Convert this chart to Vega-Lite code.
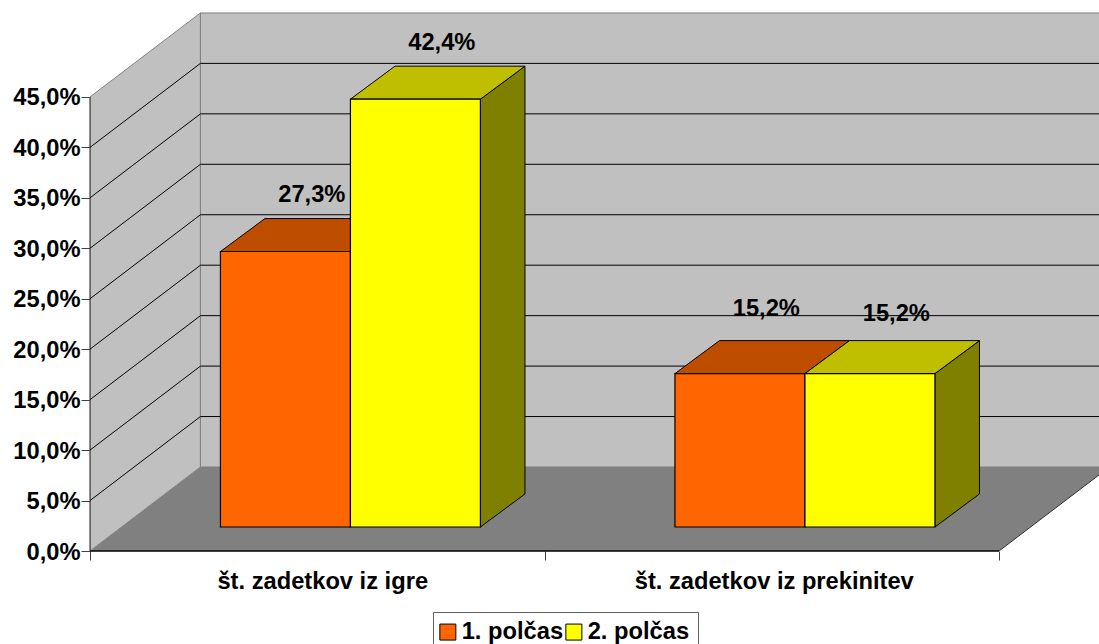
{
"$schema":"https://vega.github.io/schema/vega-lite/v6.json",
"width":1009,"height":548,
"autosize":{"type":"none"},
"padding":{"left":90,"top":3,"right":0,"bottom":93},
"background":"white",
"config":{"view":{"stroke":null},"font":"Liberation Sans"},
"resolve":{"axis":{"x":"independent","y":"independent"}},
"datasets":{
"depth":[{"d":0},{"d":1}],
"ticks":[{"t":5},{"t":10},{"t":15},{"t":20},{"t":25},{"t":30},{"t":35},{"t":40}]
},
"layer":[
{"data":{"name":"depth"},
 "resolve":{"axis":{"x":"independent","y":"independent"}},
 "transform":[{"calculate":"0.243*datum.d","as":"x"},{"calculate":"8.325*datum.d","as":"y"},{"calculate":"45+8.325*datum.d","as":"y2"},{"calculate":"2+0.243*datum.d","as":"x2"}],
 "layer":[
 {"mark":{"type":"area","fill":"#C0C0C0","stroke":"#808080","strokeWidth":1,"orient":"vertical","clip":true},
  "encoding":{
   "x":{"field":"x","type":"quantitative","scale":{"domain":[0,2.22],"nice":false,"zero":false},
    "axis":{"values":[0,0.5,1,1.5,2],"title":null,"grid":false,"domain":false,"tickSize":9,"tickColor":"#404040","tickWidth":1,
     "tickOpacity":{"condition":{"test":"datum.value==0.5||datum.value==1.5","value":0},"value":1},
     "labelOffset":{"condition":{"test":"datum.value==0.5","value":5},"value":2},
     "labelExpr":"datum.value==0.5?'št. zadetkov iz igre':datum.value==1.5?'št. zadetkov iz prekinitev':''",
     "labelOverlap":false,"labelFont":"Liberation Sans","labelFontWeight":"bold","labelFontSize":23.7,"labelColor":"black","labelPadding":9,"labelAngle":0,"labelLimit":500}},
   "y":{"field":"y","type":"quantitative","scale":{"domain":[0,54.31],"nice":false,"zero":false},
    "axis":{"values":[0,5,10,15,20,25,30,35,40,45],"title":null,"grid":false,"domain":false,"tickSize":9,"tickColor":"#404040","tickWidth":1,
     "labelExpr":"replace(format(datum.value,'.1f'),'.',',')+'%'",
     "labelOverlap":false,"labelFont":"Liberation Sans","labelFontWeight":"bold","labelFontSize":23.7,"labelColor":"black","labelPadding":1,"labelOffset":1}},
   "y2":{"field":"y2"}}},
 {"transform":[{"filter":"datum.d==1"}],
  "mark":{"type":"rect","fill":"#C0C0C0","stroke":"#808080","strokeWidth":1,"clip":true},
  "encoding":{
   "x":{"field":"x","type":"quantitative","scale":{"domain":[0,2.22],"nice":false,"zero":false},"axis":null},
   "x2":{"field":"x2"},
   "y":{"field":"y","type":"quantitative","scale":{"domain":[0,54.31],"nice":false,"zero":false},"axis":null},
   "y2":{"field":"y2"}}},
 {"mark":{"type":"area","fill":"#808080","orient":"horizontal","clip":true},
  "encoding":{
   "x":{"field":"x","type":"quantitative","scale":{"domain":[0,2.22],"nice":false,"zero":false},"axis":null},
   "x2":{"field":"x2"},
   "y":{"field":"y","type":"quantitative","scale":{"domain":[0,54.31],"nice":false,"zero":false},"axis":null}}},
 {"transform":[{"filter":"datum.d==0"}],
  "mark":{"type":"rule","stroke":"black","strokeWidth":1.5},
  "encoding":{
   "x":{"field":"x","type":"quantitative","scale":{"domain":[0,2.22],"nice":false,"zero":false},"axis":null},
   "x2":{"field":"x2"},
   "y":{"field":"y","type":"quantitative","scale":{"domain":[0,54.31],"nice":false,"zero":false},"axis":null}}},
 {"transform":[{"filter":"datum.d==0"}],
  "mark":{"type":"rule","stroke":"#404040","strokeWidth":1.2},
  "encoding":{
   "x":{"field":"x","type":"quantitative","scale":{"domain":[0,2.22],"nice":false,"zero":false},"axis":null},
   "y":{"field":"y","type":"quantitative","scale":{"domain":[0,54.31],"nice":false,"zero":false},"axis":null},
   "y2":{"field":"y2"}}},
 {"mark":{"type":"line","stroke":"#303030","strokeWidth":1,"clip":true},
  "encoding":{
   "x":{"field":"x2","type":"quantitative","scale":{"domain":[0,2.22],"nice":false,"zero":false},"axis":null},
   "y":{"field":"y","type":"quantitative","scale":{"domain":[0,54.31],"nice":false,"zero":false},"axis":null}}}
 ]},
{"data":{"name":"ticks"},
 "transform":[{"calculate":"0","as":"x0"},{"calculate":"0.243","as":"x1"},{"calculate":"2.243","as":"x2"},{"calculate":"datum.t+8.325","as":"yb"}],
 "layer":[
 {"mark":{"type":"rule","stroke":"black","strokeWidth":1},
  "encoding":{
   "x":{"field":"x0","type":"quantitative","scale":{"domain":[0,2.22],"nice":false,"zero":false},"axis":null},
   "x2":{"field":"x1"},
   "y":{"field":"t","type":"quantitative","scale":{"domain":[0,54.31],"nice":false,"zero":false},"axis":null},
   "y2":{"field":"yb"}}},
 {"mark":{"type":"rule","stroke":"black","strokeWidth":1,"clip":true},
  "encoding":{
   "x":{"field":"x1","type":"quantitative","scale":{"domain":[0,2.22],"nice":false,"zero":false},"axis":null},
   "x2":{"field":"x2"},
   "y":{"field":"yb","type":"quantitative","scale":{"domain":[0,54.31],"nice":false,"zero":false},"axis":null}}}
 ]},
{"data":{"values":[
 {"kategorija":"št. zadetkov iz igre","polcas":"1. polčas","delez":27.3},
 {"kategorija":"št. zadetkov iz igre","polcas":"2. polčas","delez":42.4},
 {"kategorija":"št. zadetkov iz prekinitev","polcas":"1. polčas","delez":15.2},
 {"kategorija":"št. zadetkov iz prekinitev","polcas":"2. polčas","delez":15.2}
 ]},
 "transform":[
  {"calculate":"[0,1]","as":"d"},{"flatten":["d"]},
  {"calculate":"(datum.kategorija=='št. zadetkov iz igre'?0.287:1.287)+(datum.polcas=='1. polčas'?0:0.286)","as":"xf"},
  {"calculate":"datum.xf+0.286","as":"xr"},
  {"calculate":"2.38","as":"yb"},
  {"calculate":"datum.yb+datum.delez","as":"yt"},
  {"calculate":"datum.xf+0.098*datum.d","as":"px"},
  {"calculate":"datum.xr+0.098*datum.d","as":"sx"},
  {"calculate":"datum.yb+3.27*datum.d","as":"by"},
  {"calculate":"datum.yt+3.27*datum.d","as":"ty"},
  {"calculate":"replace(format(datum.delez,'.1f'),'.',',')+'%'","as":"napis"},
  {"calculate":"(datum.xf+datum.xr)/2+0.058","as":"lx"},
  {"calculate":"datum.yt+3.27+(datum.kategorija=='št. zadetkov iz igre'?2.3:(datum.polcas=='1. polčas'?3.13:2.64))","as":"ly"}
 ],
 "layer":[
 {"transform":[{"filter":"datum.polcas=='1. polčas'"}],
  "layer":[
  {"mark":{"type":"area","orient":"vertical","fill":"#804000","stroke":"black","strokeWidth":1},
   "encoding":{"detail":{"field":"kategorija"},
    "x":{"field":"sx","type":"quantitative","scale":{"domain":[0,2.22],"nice":false,"zero":false},"axis":null},
    "y":{"field":"by","type":"quantitative","scale":{"domain":[0,54.31],"nice":false,"zero":false},"axis":null},
    "y2":{"field":"ty"}}},
  {"mark":{"type":"area","orient":"horizontal","fill":"#BF4D00","stroke":"black","strokeWidth":1},
   "encoding":{"detail":{"field":"kategorija"},
    "y":{"field":"ty","type":"quantitative","scale":{"domain":[0,54.31],"nice":false,"zero":false},"axis":null},
    "x":{"field":"px","type":"quantitative","scale":{"domain":[0,2.22],"nice":false,"zero":false},"axis":null},
    "x2":{"field":"sx"}}},
  {"transform":[{"filter":"datum.d==0"}],
   "mark":{"type":"rect","stroke":"black","strokeWidth":1.2},
   "encoding":{
    "x":{"field":"xf","type":"quantitative","scale":{"domain":[0,2.22],"nice":false,"zero":false},"axis":null},
    "x2":{"field":"xr"},
    "y":{"field":"yb","type":"quantitative","scale":{"domain":[0,54.31],"nice":false,"zero":false},"axis":null},
    "y2":{"field":"yt"},
    "fill":{"field":"polcas","type":"nominal","scale":{"domain":["1. polčas","2. polčas"],"range":["#FF6600","#FFFF00"]},
     "legend":{"orient":"none","legendX":343,"legendY":609,"direction":"horizontal","columns":2,"title":null,"fillColor":"white","strokeColor":"#606060","padding":8,"symbolType":"square","symbolSize":256,"symbolOffset":-5,"symbolStrokeColor":"black","symbolStrokeWidth":1,"labelFont":"Liberation Sans","labelFontSize":23.7,"labelFontWeight":"bold","labelColor":"black","labelLimit":300,"labelOffset":2,"columnPadding":-1}}}}
  ]},
 {"transform":[{"filter":"datum.polcas=='2. polčas'"}],
  "layer":[
  {"mark":{"type":"area","orient":"vertical","fill":"#808000","stroke":"black","strokeWidth":1},
   "encoding":{"detail":{"field":"kategorija"},
    "x":{"field":"sx","type":"quantitative","scale":{"domain":[0,2.22],"nice":false,"zero":false},"axis":null},
    "y":{"field":"by","type":"quantitative","scale":{"domain":[0,54.31],"nice":false,"zero":false},"axis":null},
    "y2":{"field":"ty"}}},
  {"mark":{"type":"area","orient":"horizontal","fill":"#BFBF00","stroke":"black","strokeWidth":1},
   "encoding":{"detail":{"field":"kategorija"},
    "y":{"field":"ty","type":"quantitative","scale":{"domain":[0,54.31],"nice":false,"zero":false},"axis":null},
    "x":{"field":"px","type":"quantitative","scale":{"domain":[0,2.22],"nice":false,"zero":false},"axis":null},
    "x2":{"field":"sx"}}},
  {"transform":[{"filter":"datum.d==0"}],
   "mark":{"type":"rect","stroke":"black","strokeWidth":1.2},
   "encoding":{
    "x":{"field":"xf","type":"quantitative","scale":{"domain":[0,2.22],"nice":false,"zero":false},"axis":null},
    "x2":{"field":"xr"},
    "y":{"field":"yb","type":"quantitative","scale":{"domain":[0,54.31],"nice":false,"zero":false},"axis":null},
    "y2":{"field":"yt"},
    "fill":{"field":"polcas","type":"nominal","scale":{"domain":["1. polčas","2. polčas"],"range":["#FF6600","#FFFF00"]},"legend":null}}}
  ]},
 {"transform":[{"filter":"datum.d==0"}],
  "mark":{"type":"text","font":"Liberation Sans","fontWeight":"bold","fontSize":23.7,"fill":"black","align":"center","baseline":"middle"},
  "encoding":{
   "x":{"field":"lx","type":"quantitative","scale":{"domain":[0,2.22],"nice":false,"zero":false},"axis":null},
   "y":{"field":"ly","type":"quantitative","scale":{"domain":[0,54.31],"nice":false,"zero":false},"axis":null},
   "text":{"field":"napis"}}}
 ]}
]
}
